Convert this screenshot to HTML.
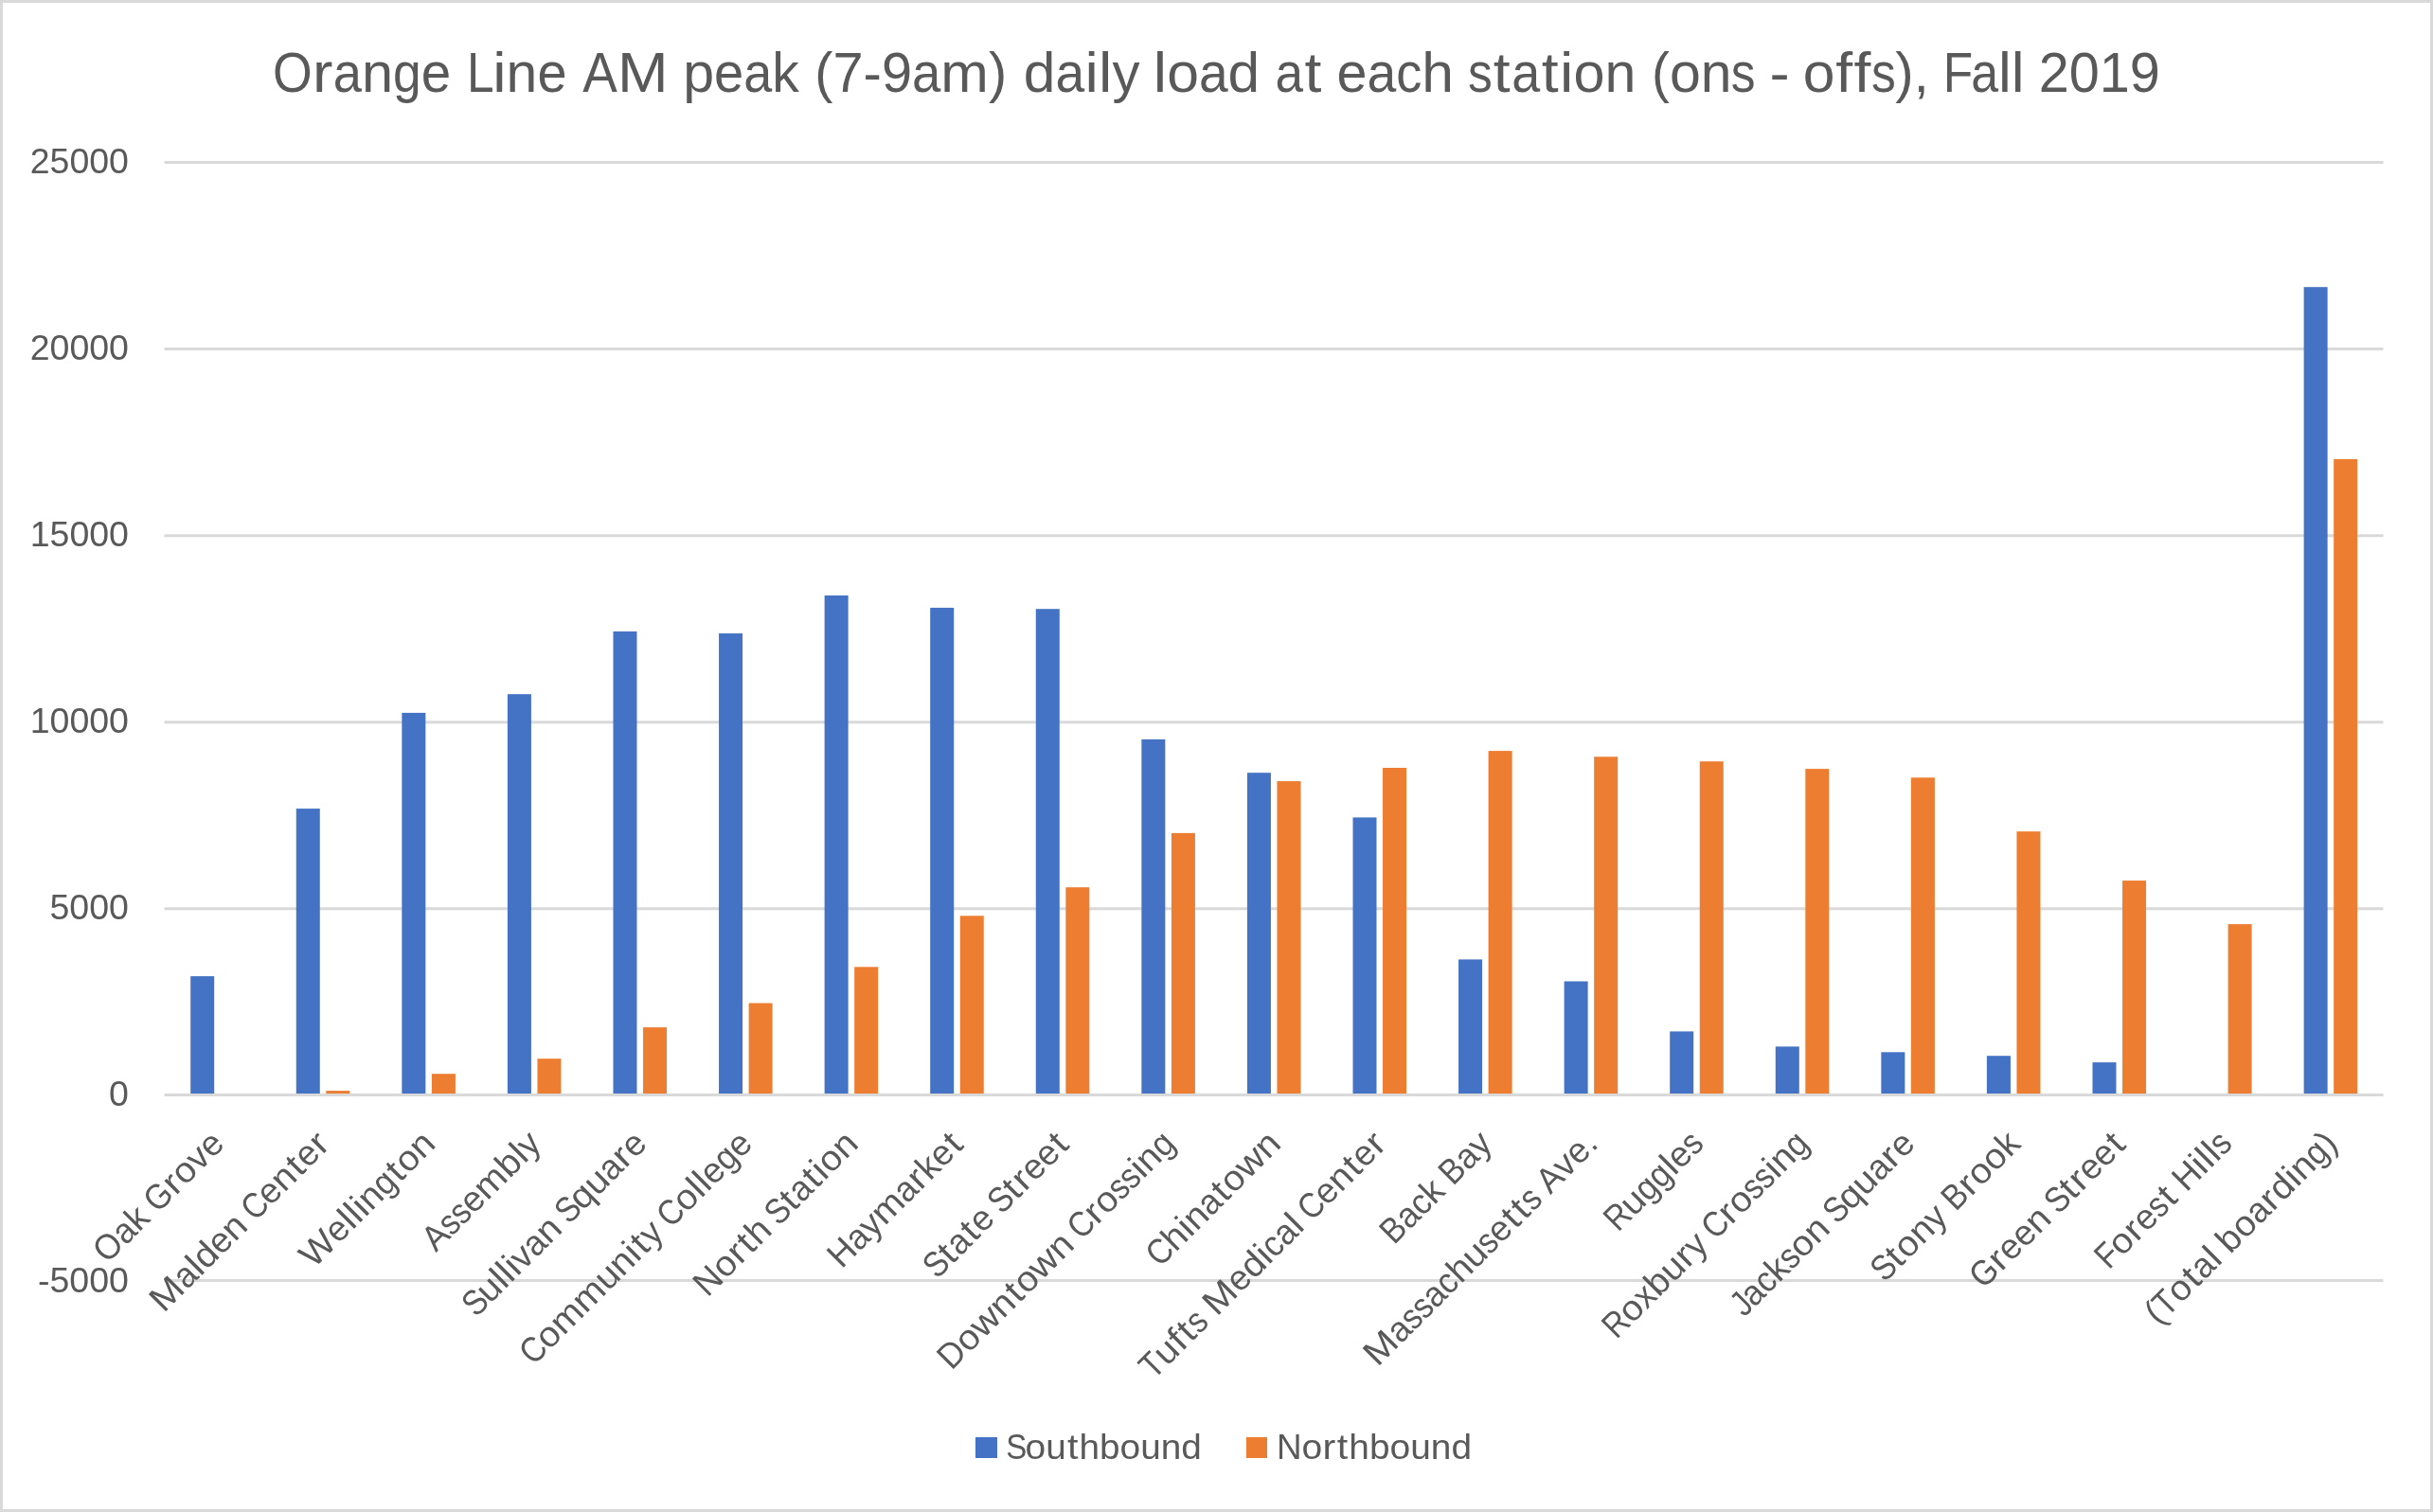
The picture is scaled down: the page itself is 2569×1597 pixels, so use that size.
<!DOCTYPE html>
<html><head><meta charset="utf-8"><title>Orange Line AM peak load</title>
<style>html,body{margin:0;padding:0;background:#fff;}body{width:2569px;height:1597px;overflow:hidden;}svg{display:block;will-change:transform;}text{font-family:"Liberation Sans",sans-serif;fill:#595959;font-kerning:none;}</style></head><body>
<svg width="2569" height="1597" viewBox="0 0 2569 1597">
<rect x="0" y="0" width="2569" height="1597" fill="#fff"/>
<rect x="1.5" y="1.5" width="2566" height="1594" fill="none" stroke="#D9D9D9" stroke-width="3"/>
<g fill="#D9D9D9">
<rect x="173.5" y="170" width="2343" height="3"/>
<rect x="173.5" y="367.1" width="2343" height="3"/>
<rect x="173.5" y="564.3" width="2343" height="3"/>
<rect x="173.5" y="761.3" width="2343" height="3"/>
<rect x="173.5" y="958.3" width="2343" height="3"/>
<rect x="173.5" y="1351" width="2343" height="3"/>
</g>
<g fill="#4472C4"><rect x="201.20" y="1031.10" width="25" height="123.90"/><rect x="312.77" y="854.10" width="25" height="300.90"/><rect x="424.34" y="752.90" width="25" height="402.10"/><rect x="535.91" y="733.20" width="25" height="421.80"/><rect x="647.49" y="666.90" width="25" height="488.10"/><rect x="759.06" y="669.00" width="25" height="486.00"/><rect x="870.63" y="628.90" width="25" height="526.10"/><rect x="982.20" y="641.90" width="25" height="513.10"/><rect x="1093.77" y="643.20" width="25" height="511.80"/><rect x="1205.34" y="780.90" width="25" height="374.10"/><rect x="1316.91" y="816.20" width="25" height="338.80"/><rect x="1428.49" y="863.40" width="25" height="291.60"/><rect x="1540.06" y="1013.40" width="25" height="141.60"/><rect x="1651.63" y="1036.50" width="25" height="118.50"/><rect x="1763.20" y="1089.40" width="25" height="65.60"/><rect x="1874.77" y="1105.40" width="25" height="49.60"/><rect x="1986.34" y="1111.30" width="25" height="43.70"/><rect x="2097.91" y="1115.20" width="25" height="39.80"/><rect x="2209.49" y="1122.10" width="25" height="32.90"/><rect x="2432.63" y="303.20" width="25" height="851.80"/></g>
<g fill="#ED7D31"><rect x="344.32" y="1152.10" width="25" height="2.90"/><rect x="455.89" y="1134.20" width="25" height="20.80"/><rect x="567.46" y="1118.20" width="25" height="36.80"/><rect x="679.04" y="1085.10" width="25" height="69.90"/><rect x="790.61" y="1059.50" width="25" height="95.50"/><rect x="902.18" y="1021.30" width="25" height="133.70"/><rect x="1013.75" y="967.30" width="25" height="187.70"/><rect x="1125.32" y="937.20" width="25" height="217.80"/><rect x="1236.89" y="879.90" width="25" height="275.10"/><rect x="1348.46" y="825.10" width="25" height="329.90"/><rect x="1460.04" y="811.00" width="25" height="344.00"/><rect x="1571.61" y="793.10" width="25" height="361.90"/><rect x="1683.18" y="799.30" width="25" height="355.70"/><rect x="1794.75" y="804.20" width="25" height="350.80"/><rect x="1906.32" y="812.10" width="25" height="342.90"/><rect x="2017.89" y="821.30" width="25" height="333.70"/><rect x="2129.46" y="878.20" width="25" height="276.80"/><rect x="2241.04" y="930.10" width="25" height="224.90"/><rect x="2352.61" y="976.10" width="25" height="178.90"/><rect x="2464.18" y="485.00" width="25" height="670.00"/></g>
<rect x="173.5" y="1155" width="2343" height="3" fill="#D9D9D9"/>
<g font-size="58.5">
<text x="287.96" y="97.1" textLength="41.76" lengthAdjust="spacingAndGlyphs">O</text><text x="330.02" y="97.1" textLength="21.43" lengthAdjust="spacingAndGlyphs">r</text><text x="351.74" y="97.1" textLength="30.22" lengthAdjust="spacingAndGlyphs">a</text><text x="381.96" y="97.1" textLength="33.12" lengthAdjust="spacingAndGlyphs">n</text><text x="415.08" y="97.1" textLength="29.71" lengthAdjust="spacingAndGlyphs">g</text><text x="444.79" y="97.1" textLength="31.42" lengthAdjust="spacingAndGlyphs">e</text>
<text x="492.88" y="97.1" textLength="28.63" lengthAdjust="spacingAndGlyphs">L</text><text x="520.31" y="97.1" textLength="14.30" lengthAdjust="spacingAndGlyphs">i</text><text x="534.60" y="97.1" textLength="32.78" lengthAdjust="spacingAndGlyphs">n</text><text x="567.39" y="97.1" textLength="31.10" lengthAdjust="spacingAndGlyphs">e</text>
<text x="615.19" y="97.1" textLength="36.58" lengthAdjust="spacingAndGlyphs">A</text><text x="651.97" y="97.1" textLength="53.60" lengthAdjust="spacingAndGlyphs">M</text>
<text x="721.19" y="97.1" textLength="32.90" lengthAdjust="spacingAndGlyphs">p</text><text x="754.08" y="97.1" textLength="31.21" lengthAdjust="spacingAndGlyphs">e</text><text x="785.29" y="97.1" textLength="30.01" lengthAdjust="spacingAndGlyphs">a</text><text x="815.31" y="97.1" textLength="28.51" lengthAdjust="spacingAndGlyphs">k</text>
<text x="860.33" y="97.1" textLength="19.17" lengthAdjust="spacingAndGlyphs">(</text><text x="879.50" y="97.1" textLength="32.08" lengthAdjust="spacingAndGlyphs">7</text><text x="911.58" y="97.1" textLength="19.36" lengthAdjust="spacingAndGlyphs">-</text><text x="930.95" y="97.1" textLength="32.08" lengthAdjust="spacingAndGlyphs">9</text><text x="963.03" y="97.1" textLength="30.31" lengthAdjust="spacingAndGlyphs">a</text><text x="993.34" y="97.1" textLength="50.56" lengthAdjust="spacingAndGlyphs">m</text><text x="1043.90" y="97.1" textLength="19.17" lengthAdjust="spacingAndGlyphs">)</text>
<text x="1080.86" y="97.1" textLength="33.65" lengthAdjust="spacingAndGlyphs">d</text><text x="1114.51" y="97.1" textLength="30.70" lengthAdjust="spacingAndGlyphs">a</text><text x="1145.41" y="97.1" textLength="14.30" lengthAdjust="spacingAndGlyphs">i</text><text x="1160.09" y="97.1" textLength="14.30" lengthAdjust="spacingAndGlyphs">l</text><text x="1174.58" y="97.1" textLength="29.04" lengthAdjust="spacingAndGlyphs">y</text>
<text x="1217.66" y="97.1" textLength="14.30" lengthAdjust="spacingAndGlyphs">l</text><text x="1232.15" y="97.1" textLength="33.75" lengthAdjust="spacingAndGlyphs">o</text><text x="1265.90" y="97.1" textLength="30.68" lengthAdjust="spacingAndGlyphs">a</text><text x="1296.57" y="97.1" textLength="33.62" lengthAdjust="spacingAndGlyphs">d</text>
<text x="1346.54" y="97.1" textLength="29.55" lengthAdjust="spacingAndGlyphs">a</text><text x="1377.49" y="97.1" textLength="17.88" lengthAdjust="spacingAndGlyphs">t</text>
<text x="1411.46" y="97.1" textLength="31.97" lengthAdjust="spacingAndGlyphs">e</text><text x="1443.43" y="97.1" textLength="30.75" lengthAdjust="spacingAndGlyphs">a</text><text x="1474.18" y="97.1" textLength="27.15" lengthAdjust="spacingAndGlyphs">c</text><text x="1501.33" y="97.1" textLength="33.70" lengthAdjust="spacingAndGlyphs">h</text>
<text x="1550.07" y="97.1" textLength="25.74" lengthAdjust="spacingAndGlyphs">s</text><text x="1576.71" y="97.1" textLength="17.88" lengthAdjust="spacingAndGlyphs">t</text><text x="1596.13" y="97.1" textLength="29.97" lengthAdjust="spacingAndGlyphs">a</text><text x="1627.65" y="97.1" textLength="17.88" lengthAdjust="spacingAndGlyphs">t</text><text x="1647.09" y="97.1" textLength="14.30" lengthAdjust="spacingAndGlyphs">i</text><text x="1661.40" y="97.1" textLength="32.98" lengthAdjust="spacingAndGlyphs">o</text><text x="1694.38" y="97.1" textLength="32.85" lengthAdjust="spacingAndGlyphs">n</text>
<text x="1744.08" y="97.1" textLength="18.88" lengthAdjust="spacingAndGlyphs">(</text><text x="1762.96" y="97.1" textLength="32.84" lengthAdjust="spacingAndGlyphs">o</text><text x="1795.80" y="97.1" textLength="32.71" lengthAdjust="spacingAndGlyphs">n</text><text x="1827.82" y="97.1" textLength="25.74" lengthAdjust="spacingAndGlyphs">s</text>
<text x="1868.58" y="97.1" textLength="21.14" lengthAdjust="spacingAndGlyphs">-</text>
<text x="1903.66" y="97.1" textLength="33.68" lengthAdjust="spacingAndGlyphs">o</text><text x="1938.15" y="97.1" textLength="17.88" lengthAdjust="spacingAndGlyphs">f</text><text x="1957.64" y="97.1" textLength="17.88" lengthAdjust="spacingAndGlyphs">f</text><text x="1975.96" y="97.1" textLength="25.74" lengthAdjust="spacingAndGlyphs">s</text><text x="2001.32" y="97.1" textLength="19.37" lengthAdjust="spacingAndGlyphs">)</text><text x="2020.69" y="97.1" textLength="15.98" lengthAdjust="spacingAndGlyphs">,</text>
<text x="2051.68" y="97.1" textLength="31.45" lengthAdjust="spacingAndGlyphs">F</text><text x="2081.22" y="97.1" textLength="28.85" lengthAdjust="spacingAndGlyphs">a</text><text x="2110.07" y="97.1" textLength="13.79" lengthAdjust="spacingAndGlyphs">l</text><text x="2123.86" y="97.1" textLength="13.79" lengthAdjust="spacingAndGlyphs">l</text>
<text x="2152.70" y="97.1" textLength="32.03" lengthAdjust="spacingAndGlyphs">2</text><text x="2184.73" y="97.1" textLength="32.03" lengthAdjust="spacingAndGlyphs">0</text><text x="2216.77" y="97.1" textLength="32.03" lengthAdjust="spacingAndGlyphs">1</text><text x="2248.80" y="97.1" textLength="32.03" lengthAdjust="spacingAndGlyphs">9</text>
</g>
<g font-size="37.5" text-anchor="end">
<text x="135.96" y="183.40">25000</text>
<text x="135.96" y="380.35">20000</text>
<text x="135.96" y="577.30">15000</text>
<text x="135.96" y="774.25">10000</text>
<text x="135.96" y="971.20">5000</text>
<text x="135.96" y="1168.15">0</text>
<text x="135.96" y="1365.10">-5000</text>
</g>
<g font-size="37.5">
<g transform="translate(238.59 1210.00) rotate(-45)"><text x="-177.15" y="0" textLength="27.41" lengthAdjust="spacingAndGlyphs">O</text><text x="-149.74" y="0" textLength="19.83" lengthAdjust="spacingAndGlyphs">a</text><text x="-129.91" y="0" textLength="18.84" lengthAdjust="spacingAndGlyphs">k</text><text x="-101.72" y="0" textLength="26.12" lengthAdjust="spacingAndGlyphs">G</text><text x="-75.24" y="0" textLength="13.74" lengthAdjust="spacingAndGlyphs">r</text><text x="-61.15" y="0" textLength="21.82" lengthAdjust="spacingAndGlyphs">o</text><text x="-39.33" y="0" textLength="18.71" lengthAdjust="spacingAndGlyphs">v</text><text x="-20.62" y="0" textLength="20.62" lengthAdjust="spacingAndGlyphs">e</text></g>
<g transform="translate(350.16 1210.00) rotate(-45)"><text x="-250.99" y="0" textLength="34.36" lengthAdjust="spacingAndGlyphs">M</text><text x="-216.11" y="0" textLength="19.83" lengthAdjust="spacingAndGlyphs">a</text><text x="-196.12" y="0" textLength="9.16" lengthAdjust="spacingAndGlyphs">l</text><text x="-186.80" y="0" textLength="21.73" lengthAdjust="spacingAndGlyphs">d</text><text x="-165.06" y="0" textLength="20.62" lengthAdjust="spacingAndGlyphs">e</text><text x="-144.44" y="0" textLength="21.73" lengthAdjust="spacingAndGlyphs">n</text><text x="-114.24" y="0" textLength="23.83" lengthAdjust="spacingAndGlyphs">C</text><text x="-91.29" y="0" textLength="20.62" lengthAdjust="spacingAndGlyphs">e</text><text x="-70.67" y="0" textLength="21.73" lengthAdjust="spacingAndGlyphs">n</text><text x="-47.73" y="0" textLength="11.46" lengthAdjust="spacingAndGlyphs">t</text><text x="-35.07" y="0" textLength="20.62" lengthAdjust="spacingAndGlyphs">e</text><text x="-14.09" y="0" textLength="13.74" lengthAdjust="spacingAndGlyphs">r</text></g>
<g transform="translate(461.73 1210.00) rotate(-45)"><text x="-184.56" y="0" textLength="36.85" lengthAdjust="spacingAndGlyphs">W</text><text x="-147.72" y="0" textLength="20.62" lengthAdjust="spacingAndGlyphs">e</text><text x="-126.94" y="0" textLength="9.16" lengthAdjust="spacingAndGlyphs">l</text><text x="-117.46" y="0" textLength="9.16" lengthAdjust="spacingAndGlyphs">l</text><text x="-107.98" y="0" textLength="9.16" lengthAdjust="spacingAndGlyphs">i</text><text x="-98.66" y="0" textLength="21.73" lengthAdjust="spacingAndGlyphs">n</text><text x="-76.92" y="0" textLength="19.50" lengthAdjust="spacingAndGlyphs">g</text><text x="-56.22" y="0" textLength="11.46" lengthAdjust="spacingAndGlyphs">t</text><text x="-43.55" y="0" textLength="21.82" lengthAdjust="spacingAndGlyphs">o</text><text x="-21.74" y="0" textLength="21.73" lengthAdjust="spacingAndGlyphs">n</text></g>
<g transform="translate(573.30 1210.00) rotate(-45)"><text x="-160.01" y="0" textLength="23.97" lengthAdjust="spacingAndGlyphs">A</text><text x="-136.20" y="0" textLength="16.50" lengthAdjust="spacingAndGlyphs">s</text><text x="-120.01" y="0" textLength="16.50" lengthAdjust="spacingAndGlyphs">s</text><text x="-103.67" y="0" textLength="20.62" lengthAdjust="spacingAndGlyphs">e</text><text x="-83.05" y="0" textLength="33.08" lengthAdjust="spacingAndGlyphs">m</text><text x="-49.97" y="0" textLength="21.73" lengthAdjust="spacingAndGlyphs">b</text><text x="-28.08" y="0" textLength="9.16" lengthAdjust="spacingAndGlyphs">l</text><text x="-18.75" y="0" textLength="18.75" lengthAdjust="spacingAndGlyphs">y</text></g>
<g transform="translate(684.87 1210.00) rotate(-45)"><text x="-257.69" y="0" textLength="22.01" lengthAdjust="spacingAndGlyphs">S</text><text x="-237.18" y="0" textLength="21.73" lengthAdjust="spacingAndGlyphs">u</text><text x="-215.29" y="0" textLength="9.16" lengthAdjust="spacingAndGlyphs">l</text><text x="-205.81" y="0" textLength="9.16" lengthAdjust="spacingAndGlyphs">l</text><text x="-196.33" y="0" textLength="9.16" lengthAdjust="spacingAndGlyphs">i</text><text x="-187.00" y="0" textLength="18.71" lengthAdjust="spacingAndGlyphs">v</text><text x="-168.29" y="0" textLength="19.83" lengthAdjust="spacingAndGlyphs">a</text><text x="-148.46" y="0" textLength="21.73" lengthAdjust="spacingAndGlyphs">n</text><text x="-118.87" y="0" textLength="22.01" lengthAdjust="spacingAndGlyphs">S</text><text x="-98.37" y="0" textLength="21.73" lengthAdjust="spacingAndGlyphs">q</text><text x="-76.63" y="0" textLength="21.73" lengthAdjust="spacingAndGlyphs">u</text><text x="-54.90" y="0" textLength="19.83" lengthAdjust="spacingAndGlyphs">a</text><text x="-34.71" y="0" textLength="13.74" lengthAdjust="spacingAndGlyphs">r</text><text x="-20.62" y="0" textLength="20.62" lengthAdjust="spacingAndGlyphs">e</text></g>
<g transform="translate(796.44 1210.00) rotate(-45)"><text x="-329.43" y="0" textLength="23.83" lengthAdjust="spacingAndGlyphs">C</text><text x="-306.48" y="0" textLength="21.82" lengthAdjust="spacingAndGlyphs">o</text><text x="-284.67" y="0" textLength="33.08" lengthAdjust="spacingAndGlyphs">m</text><text x="-251.59" y="0" textLength="33.08" lengthAdjust="spacingAndGlyphs">m</text><text x="-218.51" y="0" textLength="21.73" lengthAdjust="spacingAndGlyphs">u</text><text x="-196.77" y="0" textLength="21.73" lengthAdjust="spacingAndGlyphs">n</text><text x="-174.88" y="0" textLength="9.16" lengthAdjust="spacingAndGlyphs">i</text><text x="-164.35" y="0" textLength="11.46" lengthAdjust="spacingAndGlyphs">t</text><text x="-151.69" y="0" textLength="18.75" lengthAdjust="spacingAndGlyphs">y</text><text x="-124.46" y="0" textLength="23.83" lengthAdjust="spacingAndGlyphs">C</text><text x="-101.51" y="0" textLength="21.82" lengthAdjust="spacingAndGlyphs">o</text><text x="-79.54" y="0" textLength="9.16" lengthAdjust="spacingAndGlyphs">l</text><text x="-70.06" y="0" textLength="9.16" lengthAdjust="spacingAndGlyphs">l</text><text x="-60.73" y="0" textLength="20.62" lengthAdjust="spacingAndGlyphs">e</text><text x="-40.12" y="0" textLength="19.50" lengthAdjust="spacingAndGlyphs">g</text><text x="-20.62" y="0" textLength="20.62" lengthAdjust="spacingAndGlyphs">e</text></g>
<g transform="translate(908.01 1210.00) rotate(-45)"><text x="-227.58" y="0" textLength="26.74" lengthAdjust="spacingAndGlyphs">N</text><text x="-200.83" y="0" textLength="21.82" lengthAdjust="spacingAndGlyphs">o</text><text x="-178.66" y="0" textLength="13.74" lengthAdjust="spacingAndGlyphs">r</text><text x="-163.36" y="0" textLength="11.46" lengthAdjust="spacingAndGlyphs">t</text><text x="-150.70" y="0" textLength="21.73" lengthAdjust="spacingAndGlyphs">h</text><text x="-121.11" y="0" textLength="22.01" lengthAdjust="spacingAndGlyphs">S</text><text x="-99.40" y="0" textLength="11.46" lengthAdjust="spacingAndGlyphs">t</text><text x="-86.73" y="0" textLength="19.83" lengthAdjust="spacingAndGlyphs">a</text><text x="-65.70" y="0" textLength="11.46" lengthAdjust="spacingAndGlyphs">t</text><text x="-52.88" y="0" textLength="9.16" lengthAdjust="spacingAndGlyphs">i</text><text x="-43.55" y="0" textLength="21.82" lengthAdjust="spacingAndGlyphs">o</text><text x="-21.73" y="0" textLength="21.73" lengthAdjust="spacingAndGlyphs">n</text></g>
<g transform="translate(1019.59 1210.00) rotate(-45)"><text x="-185.06" y="0" textLength="25.79" lengthAdjust="spacingAndGlyphs">H</text><text x="-159.27" y="0" textLength="19.83" lengthAdjust="spacingAndGlyphs">a</text><text x="-139.44" y="0" textLength="18.75" lengthAdjust="spacingAndGlyphs">y</text><text x="-120.68" y="0" textLength="33.08" lengthAdjust="spacingAndGlyphs">m</text><text x="-87.60" y="0" textLength="19.83" lengthAdjust="spacingAndGlyphs">a</text><text x="-67.42" y="0" textLength="13.74" lengthAdjust="spacingAndGlyphs">r</text><text x="-53.32" y="0" textLength="18.84" lengthAdjust="spacingAndGlyphs">k</text><text x="-34.49" y="0" textLength="20.62" lengthAdjust="spacingAndGlyphs">e</text><text x="-12.66" y="0" textLength="11.46" lengthAdjust="spacingAndGlyphs">t</text></g>
<g transform="translate(1131.16 1210.00) rotate(-45)"><text x="-200.47" y="0" textLength="22.01" lengthAdjust="spacingAndGlyphs">S</text><text x="-178.76" y="0" textLength="11.46" lengthAdjust="spacingAndGlyphs">t</text><text x="-166.10" y="0" textLength="19.83" lengthAdjust="spacingAndGlyphs">a</text><text x="-145.06" y="0" textLength="11.46" lengthAdjust="spacingAndGlyphs">t</text><text x="-132.40" y="0" textLength="20.62" lengthAdjust="spacingAndGlyphs">e</text><text x="-103.93" y="0" textLength="22.01" lengthAdjust="spacingAndGlyphs">S</text><text x="-82.22" y="0" textLength="11.46" lengthAdjust="spacingAndGlyphs">t</text><text x="-69.20" y="0" textLength="13.74" lengthAdjust="spacingAndGlyphs">r</text><text x="-55.10" y="0" textLength="20.62" lengthAdjust="spacingAndGlyphs">e</text><text x="-34.49" y="0" textLength="20.62" lengthAdjust="spacingAndGlyphs">e</text><text x="-12.66" y="0" textLength="11.46" lengthAdjust="spacingAndGlyphs">t</text></g>
<g transform="translate(1242.73 1210.00) rotate(-45)"><text x="-336.42" y="0" textLength="25.46" lengthAdjust="spacingAndGlyphs">D</text><text x="-310.96" y="0" textLength="21.82" lengthAdjust="spacingAndGlyphs">o</text><text x="-289.14" y="0" textLength="29.60" lengthAdjust="spacingAndGlyphs">w</text><text x="-259.54" y="0" textLength="21.73" lengthAdjust="spacingAndGlyphs">n</text><text x="-236.60" y="0" textLength="11.46" lengthAdjust="spacingAndGlyphs">t</text><text x="-223.93" y="0" textLength="21.82" lengthAdjust="spacingAndGlyphs">o</text><text x="-202.11" y="0" textLength="29.60" lengthAdjust="spacingAndGlyphs">w</text><text x="-172.51" y="0" textLength="21.73" lengthAdjust="spacingAndGlyphs">n</text><text x="-142.31" y="0" textLength="23.83" lengthAdjust="spacingAndGlyphs">C</text><text x="-119.00" y="0" textLength="13.74" lengthAdjust="spacingAndGlyphs">r</text><text x="-104.91" y="0" textLength="21.82" lengthAdjust="spacingAndGlyphs">o</text><text x="-83.25" y="0" textLength="16.50" lengthAdjust="spacingAndGlyphs">s</text><text x="-67.06" y="0" textLength="16.50" lengthAdjust="spacingAndGlyphs">s</text><text x="-50.56" y="0" textLength="9.16" lengthAdjust="spacingAndGlyphs">i</text><text x="-41.23" y="0" textLength="21.73" lengthAdjust="spacingAndGlyphs">n</text><text x="-19.50" y="0" textLength="19.50" lengthAdjust="spacingAndGlyphs">g</text></g>
<g transform="translate(1354.30 1210.00) rotate(-45)"><text x="-182.75" y="0" textLength="23.83" lengthAdjust="spacingAndGlyphs">C</text><text x="-159.80" y="0" textLength="21.73" lengthAdjust="spacingAndGlyphs">h</text><text x="-137.91" y="0" textLength="9.16" lengthAdjust="spacingAndGlyphs">i</text><text x="-128.59" y="0" textLength="21.73" lengthAdjust="spacingAndGlyphs">n</text><text x="-106.85" y="0" textLength="19.83" lengthAdjust="spacingAndGlyphs">a</text><text x="-85.82" y="0" textLength="11.46" lengthAdjust="spacingAndGlyphs">t</text><text x="-73.15" y="0" textLength="21.82" lengthAdjust="spacingAndGlyphs">o</text><text x="-51.34" y="0" textLength="29.60" lengthAdjust="spacingAndGlyphs">w</text><text x="-21.73" y="0" textLength="21.73" lengthAdjust="spacingAndGlyphs">n</text></g>
<g transform="translate(1465.87 1210.00) rotate(-45)"><text x="-350.70" y="0" textLength="20.16" lengthAdjust="spacingAndGlyphs">T</text><text x="-330.54" y="0" textLength="21.73" lengthAdjust="spacingAndGlyphs">u</text><text x="-308.22" y="0" textLength="11.46" lengthAdjust="spacingAndGlyphs">f</text><text x="-294.97" y="0" textLength="11.46" lengthAdjust="spacingAndGlyphs">t</text><text x="-282.46" y="0" textLength="16.50" lengthAdjust="spacingAndGlyphs">s</text><text x="-256.25" y="0" textLength="34.36" lengthAdjust="spacingAndGlyphs">M</text><text x="-221.37" y="0" textLength="20.62" lengthAdjust="spacingAndGlyphs">e</text><text x="-200.75" y="0" textLength="21.73" lengthAdjust="spacingAndGlyphs">d</text><text x="-178.86" y="0" textLength="9.16" lengthAdjust="spacingAndGlyphs">i</text><text x="-169.53" y="0" textLength="17.51" lengthAdjust="spacingAndGlyphs">c</text><text x="-152.02" y="0" textLength="19.83" lengthAdjust="spacingAndGlyphs">a</text><text x="-132.03" y="0" textLength="9.16" lengthAdjust="spacingAndGlyphs">l</text><text x="-114.24" y="0" textLength="23.83" lengthAdjust="spacingAndGlyphs">C</text><text x="-91.29" y="0" textLength="20.62" lengthAdjust="spacingAndGlyphs">e</text><text x="-70.67" y="0" textLength="21.73" lengthAdjust="spacingAndGlyphs">n</text><text x="-47.73" y="0" textLength="11.46" lengthAdjust="spacingAndGlyphs">t</text><text x="-35.07" y="0" textLength="20.62" lengthAdjust="spacingAndGlyphs">e</text><text x="-14.09" y="0" textLength="13.74" lengthAdjust="spacingAndGlyphs">r</text></g>
<g transform="translate(1577.44 1210.00) rotate(-45)"><text x="-149.16" y="0" textLength="22.52" lengthAdjust="spacingAndGlyphs">B</text><text x="-126.64" y="0" textLength="19.83" lengthAdjust="spacingAndGlyphs">a</text><text x="-106.81" y="0" textLength="17.51" lengthAdjust="spacingAndGlyphs">c</text><text x="-89.30" y="0" textLength="18.84" lengthAdjust="spacingAndGlyphs">k</text><text x="-61.11" y="0" textLength="22.52" lengthAdjust="spacingAndGlyphs">B</text><text x="-38.58" y="0" textLength="19.83" lengthAdjust="spacingAndGlyphs">a</text><text x="-18.75" y="0" textLength="18.75" lengthAdjust="spacingAndGlyphs">y</text></g>
<g transform="translate(1689.01 1210.00) rotate(-45)"><text x="-331.72" y="0" textLength="34.36" lengthAdjust="spacingAndGlyphs">M</text><text x="-296.84" y="0" textLength="19.83" lengthAdjust="spacingAndGlyphs">a</text><text x="-277.16" y="0" textLength="16.50" lengthAdjust="spacingAndGlyphs">s</text><text x="-260.98" y="0" textLength="16.50" lengthAdjust="spacingAndGlyphs">s</text><text x="-244.63" y="0" textLength="19.83" lengthAdjust="spacingAndGlyphs">a</text><text x="-224.80" y="0" textLength="17.51" lengthAdjust="spacingAndGlyphs">c</text><text x="-207.29" y="0" textLength="21.73" lengthAdjust="spacingAndGlyphs">h</text><text x="-185.55" y="0" textLength="21.73" lengthAdjust="spacingAndGlyphs">u</text><text x="-163.98" y="0" textLength="16.50" lengthAdjust="spacingAndGlyphs">s</text><text x="-147.63" y="0" textLength="20.62" lengthAdjust="spacingAndGlyphs">e</text><text x="-125.81" y="0" textLength="11.46" lengthAdjust="spacingAndGlyphs">t</text><text x="-111.94" y="0" textLength="11.46" lengthAdjust="spacingAndGlyphs">t</text><text x="-99.43" y="0" textLength="16.50" lengthAdjust="spacingAndGlyphs">s</text><text x="-73.73" y="0" textLength="23.97" lengthAdjust="spacingAndGlyphs">A</text><text x="-49.76" y="0" textLength="18.71" lengthAdjust="spacingAndGlyphs">v</text><text x="-31.05" y="0" textLength="20.62" lengthAdjust="spacingAndGlyphs">e</text><text x="-10.43" y="0" textLength="10.43" lengthAdjust="spacingAndGlyphs">.</text></g>
<g transform="translate(1800.59 1210.00) rotate(-45)"><text x="-130.17" y="0" textLength="23.83" lengthAdjust="spacingAndGlyphs">R</text><text x="-107.02" y="0" textLength="21.73" lengthAdjust="spacingAndGlyphs">u</text><text x="-85.28" y="0" textLength="19.50" lengthAdjust="spacingAndGlyphs">g</text><text x="-65.78" y="0" textLength="19.50" lengthAdjust="spacingAndGlyphs">g</text><text x="-46.13" y="0" textLength="9.16" lengthAdjust="spacingAndGlyphs">l</text><text x="-36.80" y="0" textLength="20.62" lengthAdjust="spacingAndGlyphs">e</text><text x="-16.34" y="0" textLength="16.50" lengthAdjust="spacingAndGlyphs">s</text></g>
<g transform="translate(1912.16 1210.00) rotate(-45)"><text x="-290.35" y="0" textLength="23.83" lengthAdjust="spacingAndGlyphs">R</text><text x="-267.20" y="0" textLength="21.82" lengthAdjust="spacingAndGlyphs">o</text><text x="-245.38" y="0" textLength="17.93" lengthAdjust="spacingAndGlyphs">x</text><text x="-227.45" y="0" textLength="21.73" lengthAdjust="spacingAndGlyphs">b</text><text x="-205.72" y="0" textLength="21.73" lengthAdjust="spacingAndGlyphs">u</text><text x="-183.63" y="0" textLength="13.74" lengthAdjust="spacingAndGlyphs">r</text><text x="-169.53" y="0" textLength="18.75" lengthAdjust="spacingAndGlyphs">y</text><text x="-142.31" y="0" textLength="23.83" lengthAdjust="spacingAndGlyphs">C</text><text x="-119.00" y="0" textLength="13.74" lengthAdjust="spacingAndGlyphs">r</text><text x="-104.91" y="0" textLength="21.82" lengthAdjust="spacingAndGlyphs">o</text><text x="-83.25" y="0" textLength="16.50" lengthAdjust="spacingAndGlyphs">s</text><text x="-67.06" y="0" textLength="16.50" lengthAdjust="spacingAndGlyphs">s</text><text x="-50.56" y="0" textLength="9.16" lengthAdjust="spacingAndGlyphs">i</text><text x="-41.23" y="0" textLength="21.73" lengthAdjust="spacingAndGlyphs">n</text><text x="-19.50" y="0" textLength="19.50" lengthAdjust="spacingAndGlyphs">g</text></g>
<g transform="translate(2023.73 1210.00) rotate(-45)"><text x="-257.50" y="0" textLength="16.50" lengthAdjust="spacingAndGlyphs">J</text><text x="-242.65" y="0" textLength="19.83" lengthAdjust="spacingAndGlyphs">a</text><text x="-222.81" y="0" textLength="17.51" lengthAdjust="spacingAndGlyphs">c</text><text x="-205.30" y="0" textLength="18.84" lengthAdjust="spacingAndGlyphs">k</text><text x="-186.62" y="0" textLength="16.50" lengthAdjust="spacingAndGlyphs">s</text><text x="-170.28" y="0" textLength="21.82" lengthAdjust="spacingAndGlyphs">o</text><text x="-148.46" y="0" textLength="21.73" lengthAdjust="spacingAndGlyphs">n</text><text x="-118.87" y="0" textLength="22.01" lengthAdjust="spacingAndGlyphs">S</text><text x="-98.37" y="0" textLength="21.73" lengthAdjust="spacingAndGlyphs">q</text><text x="-76.63" y="0" textLength="21.73" lengthAdjust="spacingAndGlyphs">u</text><text x="-54.90" y="0" textLength="19.83" lengthAdjust="spacingAndGlyphs">a</text><text x="-34.71" y="0" textLength="13.74" lengthAdjust="spacingAndGlyphs">r</text><text x="-20.62" y="0" textLength="20.62" lengthAdjust="spacingAndGlyphs">e</text></g>
<g transform="translate(2135.30 1210.00) rotate(-45)"><text x="-205.48" y="0" textLength="22.01" lengthAdjust="spacingAndGlyphs">S</text><text x="-183.77" y="0" textLength="11.46" lengthAdjust="spacingAndGlyphs">t</text><text x="-171.11" y="0" textLength="21.82" lengthAdjust="spacingAndGlyphs">o</text><text x="-149.29" y="0" textLength="21.73" lengthAdjust="spacingAndGlyphs">n</text><text x="-127.55" y="0" textLength="18.75" lengthAdjust="spacingAndGlyphs">y</text><text x="-99.44" y="0" textLength="22.52" lengthAdjust="spacingAndGlyphs">B</text><text x="-76.57" y="0" textLength="13.74" lengthAdjust="spacingAndGlyphs">r</text><text x="-62.47" y="0" textLength="21.82" lengthAdjust="spacingAndGlyphs">o</text><text x="-40.65" y="0" textLength="21.82" lengthAdjust="spacingAndGlyphs">o</text><text x="-18.84" y="0" textLength="18.84" lengthAdjust="spacingAndGlyphs">k</text></g>
<g transform="translate(2246.87 1210.00) rotate(-45)"><text x="-215.32" y="0" textLength="26.12" lengthAdjust="spacingAndGlyphs">G</text><text x="-188.84" y="0" textLength="13.74" lengthAdjust="spacingAndGlyphs">r</text><text x="-174.75" y="0" textLength="20.62" lengthAdjust="spacingAndGlyphs">e</text><text x="-154.13" y="0" textLength="20.62" lengthAdjust="spacingAndGlyphs">e</text><text x="-133.51" y="0" textLength="21.73" lengthAdjust="spacingAndGlyphs">n</text><text x="-103.93" y="0" textLength="22.01" lengthAdjust="spacingAndGlyphs">S</text><text x="-82.22" y="0" textLength="11.46" lengthAdjust="spacingAndGlyphs">t</text><text x="-69.20" y="0" textLength="13.74" lengthAdjust="spacingAndGlyphs">r</text><text x="-55.10" y="0" textLength="20.62" lengthAdjust="spacingAndGlyphs">e</text><text x="-34.49" y="0" textLength="20.62" lengthAdjust="spacingAndGlyphs">e</text><text x="-12.66" y="0" textLength="11.46" lengthAdjust="spacingAndGlyphs">t</text></g>
<g transform="translate(2358.44 1210.00) rotate(-45)"><text x="-186.30" y="0" textLength="20.16" lengthAdjust="spacingAndGlyphs">F</text><text x="-166.72" y="0" textLength="21.82" lengthAdjust="spacingAndGlyphs">o</text><text x="-144.54" y="0" textLength="13.74" lengthAdjust="spacingAndGlyphs">r</text><text x="-130.45" y="0" textLength="20.62" lengthAdjust="spacingAndGlyphs">e</text><text x="-109.99" y="0" textLength="16.50" lengthAdjust="spacingAndGlyphs">s</text><text x="-92.44" y="0" textLength="11.46" lengthAdjust="spacingAndGlyphs">t</text><text x="-70.42" y="0" textLength="25.79" lengthAdjust="spacingAndGlyphs">H</text><text x="-44.47" y="0" textLength="9.16" lengthAdjust="spacingAndGlyphs">i</text><text x="-34.99" y="0" textLength="9.16" lengthAdjust="spacingAndGlyphs">l</text><text x="-25.51" y="0" textLength="9.16" lengthAdjust="spacingAndGlyphs">l</text><text x="-16.34" y="0" textLength="16.50" lengthAdjust="spacingAndGlyphs">s</text></g>
<g transform="translate(2470.01 1210.00) rotate(-45)"><text x="-269.89" y="0" textLength="12.54" lengthAdjust="spacingAndGlyphs">(</text><text x="-257.34" y="0" textLength="20.16" lengthAdjust="spacingAndGlyphs">T</text><text x="-237.18" y="0" textLength="21.82" lengthAdjust="spacingAndGlyphs">o</text><text x="-214.16" y="0" textLength="11.46" lengthAdjust="spacingAndGlyphs">t</text><text x="-201.49" y="0" textLength="19.83" lengthAdjust="spacingAndGlyphs">a</text><text x="-181.51" y="0" textLength="9.16" lengthAdjust="spacingAndGlyphs">l</text><text x="-162.83" y="0" textLength="21.73" lengthAdjust="spacingAndGlyphs">b</text><text x="-141.09" y="0" textLength="21.82" lengthAdjust="spacingAndGlyphs">o</text><text x="-119.27" y="0" textLength="19.83" lengthAdjust="spacingAndGlyphs">a</text><text x="-99.09" y="0" textLength="13.74" lengthAdjust="spacingAndGlyphs">r</text><text x="-84.99" y="0" textLength="21.73" lengthAdjust="spacingAndGlyphs">d</text><text x="-63.10" y="0" textLength="9.16" lengthAdjust="spacingAndGlyphs">i</text><text x="-53.78" y="0" textLength="21.73" lengthAdjust="spacingAndGlyphs">n</text><text x="-32.04" y="0" textLength="19.50" lengthAdjust="spacingAndGlyphs">g</text><text x="-12.54" y="0" textLength="12.54" lengthAdjust="spacingAndGlyphs">)</text></g>
</g>
<rect x="1030" y="1518" width="23" height="22" fill="#4472C4"/>
<rect x="1316" y="1518" width="22" height="22" fill="#ED7D31"/>
<g font-size="37.5">
<text x="1062.20" y="1540.5" textLength="22.01" lengthAdjust="spacingAndGlyphs">S</text><text x="1082.62" y="1540.5" textLength="21.62" lengthAdjust="spacingAndGlyphs">o</text><text x="1104.24" y="1540.5" textLength="21.53" lengthAdjust="spacingAndGlyphs">u</text><text x="1126.91" y="1540.5" textLength="11.46" lengthAdjust="spacingAndGlyphs">t</text><text x="1139.51" y="1540.5" textLength="21.53" lengthAdjust="spacingAndGlyphs">h</text><text x="1161.04" y="1540.5" textLength="21.53" lengthAdjust="spacingAndGlyphs">b</text><text x="1182.58" y="1540.5" textLength="21.62" lengthAdjust="spacingAndGlyphs">o</text><text x="1204.19" y="1540.5" textLength="21.53" lengthAdjust="spacingAndGlyphs">u</text><text x="1225.73" y="1540.5" textLength="21.53" lengthAdjust="spacingAndGlyphs">n</text><text x="1247.26" y="1540.5" textLength="21.53" lengthAdjust="spacingAndGlyphs">d</text>
<text x="1347.98" y="1540.5" textLength="26.57" lengthAdjust="spacingAndGlyphs">N</text><text x="1374.55" y="1540.5" textLength="21.68" lengthAdjust="spacingAndGlyphs">o</text><text x="1396.54" y="1540.5" textLength="13.74" lengthAdjust="spacingAndGlyphs">r</text><text x="1411.74" y="1540.5" textLength="11.46" lengthAdjust="spacingAndGlyphs">t</text><text x="1424.36" y="1540.5" textLength="21.59" lengthAdjust="spacingAndGlyphs">h</text><text x="1445.95" y="1540.5" textLength="21.59" lengthAdjust="spacingAndGlyphs">b</text><text x="1467.55" y="1540.5" textLength="21.68" lengthAdjust="spacingAndGlyphs">o</text><text x="1489.22" y="1540.5" textLength="21.59" lengthAdjust="spacingAndGlyphs">u</text><text x="1510.82" y="1540.5" textLength="21.59" lengthAdjust="spacingAndGlyphs">n</text><text x="1532.41" y="1540.5" textLength="21.59" lengthAdjust="spacingAndGlyphs">d</text>
</g>
</svg></body></html>
